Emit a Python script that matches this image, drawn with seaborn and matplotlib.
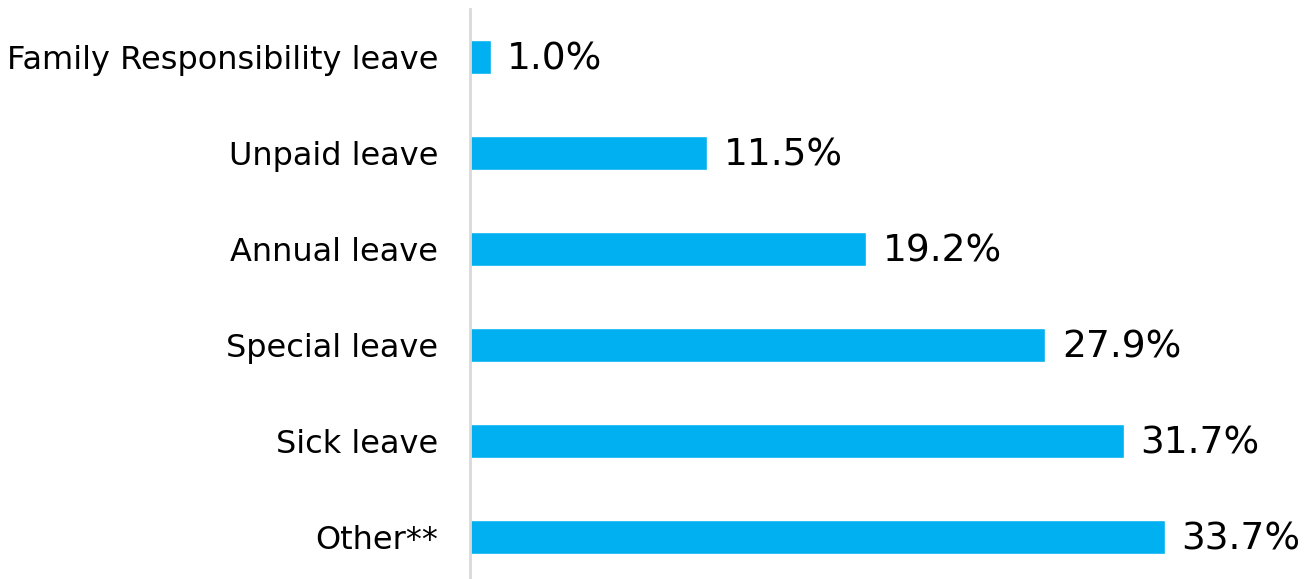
import matplotlib
matplotlib.use("Agg")
import matplotlib.pyplot as plt
import seaborn as sns
import pandas as pd

categories = ["Family Responsibility leave", "Unpaid leave", "Annual leave",
              "Special leave", "Sick leave", "Other**"]
values = [1.0, 11.5, 19.2, 27.9, 31.7, 33.7]
labels = ["1.0%", "11.5%", "19.2%", "27.9%", "31.7%", "33.7%"]

sns.set_theme(style="white")
plt.rcParams['font.family'] = ['DejaVu Sans']

df = pd.DataFrame({"cat": categories, "val": values})

fig = plt.figure(figsize=(13.07, 5.79), dpi=100)
ax = fig.add_axes([470/1307, -6/579, 1 - 470/1307, 576/579])
sns.barplot(data=df, x="val", y="cat", color="#00b0f0", saturation=1,
            width=0.35, ax=ax, orient="h")
ax.set_xlim(0, 40.6)
ax.set_xlabel("")
ax.set_ylabel("")
ax.set_xticks([])
for s in ["top", "right", "bottom"]:
    ax.spines[s].set_visible(False)
ax.spines["left"].set_color("#d9d9d9")
ax.spines["left"].set_linewidth(2)
ax.tick_params(axis="y", length=0, pad=23, labelsize=23, labelcolor="black")
for lab in ax.get_yticklabels():
    lab.set_verticalalignment("center_baseline")
for i, (v, t) in enumerate(zip(values, labels)):
    ax.annotate(t, xy=(v, i), xytext=(12, -2), textcoords="offset points",
                va="center", ha="left", fontsize=27, color="black")

fig.savefig("out.png", dpi=100)
